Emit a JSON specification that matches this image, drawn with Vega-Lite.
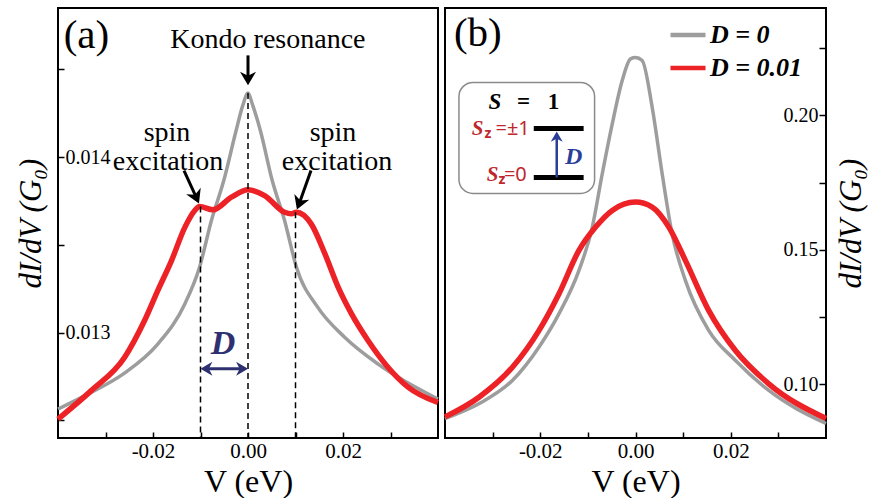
{
  "$schema": "https://vega.github.io/schema/vega-lite/v6.json",
  "padding": {"left": 14, "top": 7, "right": 0, "bottom": 0},
  "background": "white",
  "spacing": 7,
  "bounds": "flush",
  "datasets": {
    "a": [
      {"V": -0.04, "G": 0.012565, "s": "D = 0"},
      {"V": -0.033, "G": 0.01266, "s": "D = 0"},
      {"V": -0.026, "G": 0.01277, "s": "D = 0"},
      {"V": -0.019, "G": 0.012935, "s": "D = 0"},
      {"V": -0.0133, "G": 0.013164, "s": "D = 0"},
      {"V": -0.0102, "G": 0.013373, "s": "D = 0"},
      {"V": -0.0077, "G": 0.013639, "s": "D = 0"},
      {"V": -0.0051, "G": 0.013867, "s": "D = 0"},
      {"V": -0.0025, "G": 0.014152, "s": "D = 0"},
      {"V": -0.0011, "G": 0.014295, "s": "D = 0"},
      {"V": 0, "G": 0.014365, "s": "D = 0"},
      {"V": 0.001, "G": 0.014295, "s": "D = 0"},
      {"V": 0.0026, "G": 0.014152, "s": "D = 0"},
      {"V": 0.0051, "G": 0.013867, "s": "D = 0"},
      {"V": 0.0077, "G": 0.013639, "s": "D = 0"},
      {"V": 0.0102, "G": 0.013373, "s": "D = 0"},
      {"V": 0.0147, "G": 0.013144, "s": "D = 0"},
      {"V": 0.0204, "G": 0.012973, "s": "D = 0"},
      {"V": 0.0274, "G": 0.012821, "s": "D = 0"},
      {"V": 0.04, "G": 0.012622, "s": "D = 0"},
      {"V": -0.04, "G": 0.012508, "s": "D = 0.01"},
      {"V": -0.033, "G": 0.01267, "s": "D = 0.01"},
      {"V": -0.026, "G": 0.012859, "s": "D = 0.01"},
      {"V": -0.0218, "G": 0.013068, "s": "D = 0.01"},
      {"V": -0.019, "G": 0.01324, "s": "D = 0.01"},
      {"V": -0.0161, "G": 0.013411, "s": "D = 0.01"},
      {"V": -0.0133, "G": 0.0136, "s": "D = 0.01"},
      {"V": -0.0112, "G": 0.013696, "s": "D = 0.01"},
      {"V": -0.0102, "G": 0.013719, "s": "D = 0.01"},
      {"V": -0.0074, "G": 0.0137, "s": "D = 0.01"},
      {"V": -0.0035, "G": 0.013772, "s": "D = 0.01"},
      {"V": 0, "G": 0.013814, "s": "D = 0.01"},
      {"V": 0.0035, "G": 0.013781, "s": "D = 0.01"},
      {"V": 0.0077, "G": 0.013686, "s": "D = 0.01"},
      {"V": 0.0091, "G": 0.013677, "s": "D = 0.01"},
      {"V": 0.0102, "G": 0.013686, "s": "D = 0.01"},
      {"V": 0.0133, "G": 0.01362, "s": "D = 0.01"},
      {"V": 0.0162, "G": 0.013449, "s": "D = 0.01"},
      {"V": 0.019, "G": 0.013258, "s": "D = 0.01"},
      {"V": 0.0218, "G": 0.013107, "s": "D = 0.01"},
      {"V": 0.0253, "G": 0.012954, "s": "D = 0.01"},
      {"V": 0.0295, "G": 0.012802, "s": "D = 0.01"},
      {"V": 0.0337, "G": 0.01269, "s": "D = 0.01"},
      {"V": 0.04, "G": 0.012602, "s": "D = 0.01"}
    ],
    "b": [
      {"V": -0.04, "G": 0.08724, "s": "D = 0"},
      {"V": -0.0328, "G": 0.09282, "s": "D = 0"},
      {"V": -0.0258, "G": 0.10149, "s": "D = 0"},
      {"V": -0.02025, "G": 0.11387, "s": "D = 0"},
      {"V": -0.01606, "G": 0.12628, "s": "D = 0"},
      {"V": -0.01187, "G": 0.14238, "s": "D = 0"},
      {"V": -0.00907, "G": 0.15848, "s": "D = 0"},
      {"V": -0.00698, "G": 0.17831, "s": "D = 0"},
      {"V": -0.00488, "G": 0.1969, "s": "D = 0"},
      {"V": -0.00279, "G": 0.21301, "s": "D = 0"},
      {"V": -0.00105, "G": 0.22108, "s": "D = 0"},
      {"V": 0, "G": 0.22156, "s": "D = 0"},
      {"V": 0.0014, "G": 0.22045, "s": "D = 0"},
      {"V": 0.0035, "G": 0.20309, "s": "D = 0"},
      {"V": 0.0056, "G": 0.17831, "s": "D = 0"},
      {"V": 0.00768, "G": 0.15602, "s": "D = 0"},
      {"V": 0.01047, "G": 0.13866, "s": "D = 0"},
      {"V": 0.01536, "G": 0.12007, "s": "D = 0"},
      {"V": 0.02094, "G": 0.10892, "s": "D = 0"},
      {"V": 0.02792, "G": 0.09777, "s": "D = 0"},
      {"V": 0.04, "G": 0.08538, "s": "D = 0"},
      {"V": -0.04, "G": 0.08785, "s": "D = 0.01"},
      {"V": -0.0328, "G": 0.09528, "s": "D = 0.01"},
      {"V": -0.0258, "G": 0.10643, "s": "D = 0.01"},
      {"V": -0.02025, "G": 0.12007, "s": "D = 0.01"},
      {"V": -0.01606, "G": 0.13371, "s": "D = 0.01"},
      {"V": -0.01187, "G": 0.14981, "s": "D = 0.01"},
      {"V": -0.00838, "G": 0.15848, "s": "D = 0.01"},
      {"V": -0.00488, "G": 0.16468, "s": "D = 0.01"},
      {"V": 0, "G": 0.16777, "s": "D = 0.01"},
      {"V": 0.0035, "G": 0.16592, "s": "D = 0.01"},
      {"V": 0.007, "G": 0.15848, "s": "D = 0.01"},
      {"V": 0.01047, "G": 0.1461, "s": "D = 0.01"},
      {"V": 0.01536, "G": 0.12751, "s": "D = 0.01"},
      {"V": 0.02094, "G": 0.11264, "s": "D = 0.01"},
      {"V": 0.02792, "G": 0.10025, "s": "D = 0.01"},
      {"V": 0.04, "G": 0.08724, "s": "D = 0.01"}
    ],
    "dash": [
      {"V": -0.01, "T": 0.013719},
      {"V": 0, "T": 0.014365},
      {"V": 0.01, "T": 0.013686}
    ]
  },
  "config": {
    "view": {"stroke": "black", "strokeWidth": 2},
    "font": "Liberation Serif",
    "axis": {
      "domain": false, "grid": false,
      "labelFont": "Liberation Serif", "titleFont": "Liberation Serif",
      "titleFontWeight": "normal", "labelColor": "black", "titleColor": "black",
      "tickColor": "black", "tickWidth": 1.5,
      "labelOverlap": false, "labelFlush": false, "labelBound": false
    }
  },
  "resolve": {"scale": {"color": "independent"}},
  "hconcat": [
    {
      "width": 380, "height": 430,
      "data": {"values": [{}]},
      "layer": [
        {
          "data": {"name": "a"},
          "transform": [{"filter": "datum.s == 'D = 0'"}],
          "mark": {"type": "line", "interpolate": "monotone", "strokeWidth": 3.5},
          "encoding": {
            "x": {"field": "V", "type": "quantitative",
              "scale": {"domain": [-0.04, 0.04], "nice": false, "zero": false},
              "axis": {"title": "V (eV)", "values": [-0.03, -0.02, -0.01, 0, 0.01, 0.02, 0.03],
                "labelExpr": "abs(datum.value) < 1e-9 ? '0.00' : abs(datum.value + 0.02) < 1e-9 ? '-0.02' : abs(datum.value - 0.02) < 1e-9 ? '0.02' : ''",
                "tickSize": -6,
                "labelFontSize": 21, "labelPadding": 8, "titleFontSize": 32, "titlePadding": 5}},
            "y": {"field": "G", "type": "quantitative",
              "scale": {"domain": [0.0124, 0.01485], "nice": false, "zero": false},
              "axis": {"title": "dI/dV (G₀)", "titleFontStyle": "italic", "values": [0.0125, 0.013, 0.0135, 0.014, 0.0145],
                "labelExpr": "abs(datum.value*1000 - round(datum.value*1000)) < 1e-6 ? format(datum.value, '.3f') : ''",
                "tickSize": -6, "labelAlign": "left", "labelPadding": -1, "labelFontSize": 20,
                "titleFontSize": 31, "titlePadding": 10}},
            "color": {"field": "s", "type": "nominal",
              "scale": {"domain": ["D = 0", "D = 0.01"], "range": ["#9d9d9d", "#ec2227"]}, "legend": null}
          }
        },
        {
          "data": {"name": "a"},
          "transform": [{"filter": "datum.s == 'D = 0.01'"}],
          "mark": {"type": "line", "interpolate": "monotone", "strokeWidth": 5.5},
          "encoding": {
            "x": {"field": "V", "type": "quantitative"},
            "y": {"field": "G", "type": "quantitative"},
            "color": {"field": "s", "type": "nominal", "legend": null}
          }
        },
        {
          "data": {"name": "dash"},
          "mark": {"type": "rule", "strokeDash": [6, 4], "color": "black", "strokeWidth": 1.5},
          "encoding": {
            "x": {"field": "V", "type": "quantitative"},
            "y": {"field": "T", "type": "quantitative"},
            "y2": {"datum": 0.0124}
          }
        },
        {"mark": {"type": "text", "text": "(a)", "fontSize": 41, "align": "left", "baseline": "middle"},
         "encoding": {"x": {"datum": -0.0388, "type": "quantitative"}, "y": {"datum": 0.014689, "type": "quantitative"}}},
        {"mark": {"type": "text", "text": "Kondo resonance", "fontSize": 28, "align": "center", "baseline": "middle"},
         "encoding": {"x": {"datum": 0.0042, "type": "quantitative"}, "y": {"datum": 0.014666, "type": "quantitative"}}},
        {"mark": {"type": "text", "text": "spin", "fontSize": 28, "align": "center", "baseline": "middle"},
         "encoding": {"x": {"datum": -0.01705, "type": "quantitative"}, "y": {"datum": 0.014138, "type": "quantitative"}}},
        {"mark": {"type": "text", "text": "excitation", "fontSize": 28, "align": "center", "baseline": "middle"},
         "encoding": {"x": {"datum": -0.01684, "type": "quantitative"}, "y": {"datum": 0.013975, "type": "quantitative"}}},
        {"mark": {"type": "text", "text": "spin", "fontSize": 28, "align": "center", "baseline": "middle"},
         "encoding": {"x": {"datum": 0.0179, "type": "quantitative"}, "y": {"datum": 0.014138, "type": "quantitative"}}},
        {"mark": {"type": "text", "text": "excitation", "fontSize": 28, "align": "center", "baseline": "middle"},
         "encoding": {"x": {"datum": 0.01874, "type": "quantitative"}, "y": {"datum": 0.013975, "type": "quantitative"}}},
        {"mark": {"type": "rule", "color": "black", "strokeWidth": 3},
         "encoding": {"x": {"datum": 0, "type": "quantitative"}, "y": {"datum": 0.01458, "type": "quantitative"}, "y2": {"datum": 0.014455}}},
        {"mark": {"type": "point", "shape": "M0,1L-1,-0.7L0,-0.2L1,-0.7Z", "filled": true, "color": "black", "opacity": 1, "size": 256, "angle": 0},
         "encoding": {"x": {"datum": 0, "type": "quantitative"}, "y": {"datum": 0.014455, "type": "quantitative"}}},
        {"mark": {"type": "rule", "color": "black", "strokeWidth": 3},
         "encoding": {"x": {"datum": -0.01347, "type": "quantitative"}, "y": {"datum": 0.013924, "type": "quantitative"}, "x2": {"datum": -0.01101}, "y2": {"datum": 0.013778}}},
        {"mark": {"type": "point", "shape": "M0,1L-1,-0.7L0,-0.2L1,-0.7Z", "filled": true, "color": "black", "opacity": 1, "size": 256, "angle": -24},
         "encoding": {"x": {"datum": -0.01101, "type": "quantitative"}, "y": {"datum": 0.013778, "type": "quantitative"}}},
        {"mark": {"type": "rule", "color": "black", "strokeWidth": 3},
         "encoding": {"x": {"datum": 0.01326, "type": "quantitative"}, "y": {"datum": 0.013924, "type": "quantitative"}, "x2": {"datum": 0.0109}, "y2": {"datum": 0.013744}}},
        {"mark": {"type": "point", "shape": "M0,1L-1,-0.7L0,-0.2L1,-0.7Z", "filled": true, "color": "black", "opacity": 1, "size": 256, "angle": 21},
         "encoding": {"x": {"datum": 0.0109, "type": "quantitative"}, "y": {"datum": 0.013744, "type": "quantitative"}}},
        {"mark": {"type": "rule", "color": "#2e3070", "strokeWidth": 3},
         "encoding": {"x": {"datum": -0.0092, "type": "quantitative"}, "x2": {"datum": -0.0008}, "y": {"datum": 0.012795, "type": "quantitative"}}},
        {"mark": {"type": "point", "shape": "M0,1L-1,-0.7L0,-0.2L1,-0.7Z", "filled": true, "color": "#2e3070", "opacity": 1, "size": 196, "angle": 90},
         "encoding": {"x": {"datum": -0.00853, "type": "quantitative"}, "y": {"datum": 0.012795, "type": "quantitative"}}},
        {"mark": {"type": "point", "shape": "M0,1L-1,-0.7L0,-0.2L1,-0.7Z", "filled": true, "color": "#2e3070", "opacity": 1, "size": 196, "angle": -90},
         "encoding": {"x": {"datum": -0.00147, "type": "quantitative"}, "y": {"datum": 0.012795, "type": "quantitative"}}},
        {"mark": {"type": "text", "text": "D", "fontSize": 34, "fontWeight": "bold", "fontStyle": "italic", "color": "#2e3070", "align": "center", "baseline": "middle"},
         "encoding": {"x": {"datum": -0.00526, "type": "quantitative"}, "y": {"datum": 0.012937, "type": "quantitative"}}}
      ]
    },
    {
      "width": 381, "height": 430,
      "data": {"values": [{}]},
      "layer": [
        {
          "data": {"name": "b"},
          "transform": [{"filter": "datum.s == 'D = 0'"}],
          "mark": {"type": "line", "interpolate": "monotone", "strokeWidth": 3.5},
          "encoding": {
            "x": {"field": "V", "type": "quantitative",
              "scale": {"domain": [-0.04, 0.04], "nice": false, "zero": false},
              "axis": {"title": "V (eV)", "values": [-0.03, -0.02, -0.01, 0, 0.01, 0.02, 0.03],
                "labelExpr": "abs(datum.value) < 1e-9 ? '0.00' : abs(datum.value + 0.02) < 1e-9 ? '-0.02' : abs(datum.value - 0.02) < 1e-9 ? '0.02' : ''",
                "tickSize": -6,
                "labelFontSize": 21, "labelPadding": 8, "titleFontSize": 32, "titlePadding": 5}},
            "y": {"field": "G", "type": "quantitative",
              "scale": {"domain": [0.08, 0.24], "nice": false, "zero": false},
              "axis": {"orient": "right", "title": "dI/dV (G₀)", "titleFontStyle": "italic", "titleAngle": -90, "titleBaseline": "top",
                "values": [0.1, 0.125, 0.15, 0.175, 0.2, 0.225],
                "labelExpr": "abs(datum.value*20 - round(datum.value*20)) < 1e-6 ? format(datum.value, '.2f') : ''",
                "tickSize": -7, "labelAlign": "right", "labelPadding": -1, "labelFontSize": 20,
                "titleFontSize": 31, "titlePadding": 10}},
            "color": {"field": "s", "type": "nominal",
              "scale": {"domain": ["D = 0", "D = 0.01"], "range": ["#9d9d9d", "#ec2227"]},
              "legend": {"orient": "none", "legendX": 223, "legendY": 7, "title": null,
                "symbolType": "stroke", "symbolSize": 1225, "symbolStrokeWidth": 4.5,
                "labelFont": "Liberation Serif", "labelFontSize": 26, "labelFontWeight": "bold", "labelFontStyle": "italic", "labelColor": "black",
                "rowPadding": 0, "labelOffset": 2, "padding": 0, "labelLimit": 300}}
          }
        },
        {
          "data": {"name": "b"},
          "transform": [{"filter": "datum.s == 'D = 0.01'"}],
          "mark": {"type": "line", "interpolate": "monotone", "strokeWidth": 5.5},
          "encoding": {
            "x": {"field": "V", "type": "quantitative"},
            "y": {"field": "G", "type": "quantitative"},
            "color": {"field": "s", "type": "nominal"}
          }
        },
        {"mark": {"type": "rect", "fill": "white", "stroke": "#8a8a8a", "strokeWidth": 1.5, "cornerRadius": 14},
         "encoding": {"x": {"datum": -0.03707, "type": "quantitative"}, "x2": {"datum": -0.00859}, "y": {"datum": 0.171, "type": "quantitative"}, "y2": {"datum": 0.21227}}},
        {"mark": {"type": "text", "text": "(b)", "fontSize": 41, "align": "left", "baseline": "middle"},
         "encoding": {"x": {"datum": -0.03812, "type": "quantitative"}, "y": {"datum": 0.23048, "type": "quantitative"}}},
        {"mark": {"type": "text", "text": "S", "fontSize": 23, "fontWeight": "bold", "fontStyle": "italic", "align": "left", "baseline": "middle"},
         "encoding": {"x": {"datum": -0.03087, "type": "quantitative"}, "y": {"datum": 0.2049, "type": "quantitative"}}},
        {"mark": {"type": "text", "text": "=", "fontSize": 23, "fontWeight": "bold", "align": "center", "baseline": "middle"},
         "encoding": {"x": {"datum": -0.02352, "type": "quantitative"}, "y": {"datum": 0.2049, "type": "quantitative"}}},
        {"mark": {"type": "text", "text": "1", "fontSize": 23, "fontWeight": "bold", "align": "center", "baseline": "middle"},
         "encoding": {"x": {"datum": -0.01722, "type": "quantitative"}, "y": {"datum": 0.2049, "type": "quantitative"}}},
        {"mark": {"type": "rule", "color": "black", "strokeWidth": 5},
         "encoding": {"x": {"datum": -0.02136, "type": "quantitative"}, "x2": {"datum": -0.01089}, "y": {"datum": 0.19517, "type": "quantitative"}}},
        {"mark": {"type": "rule", "color": "black", "strokeWidth": 5},
         "encoding": {"x": {"datum": -0.02136, "type": "quantitative"}, "x2": {"datum": -0.01089}, "y": {"datum": 0.17695, "type": "quantitative"}}},
        {"mark": {"type": "text", "text": "S", "fontSize": 21, "fontWeight": "bold", "fontStyle": "italic", "color": "#c0272d", "align": "right", "baseline": "middle"},
         "encoding": {"x": {"datum": -0.03192, "type": "quantitative"}, "y": {"datum": 0.19481, "type": "quantitative"}}},
        {"mark": {"type": "text", "text": "z", "fontSize": 14, "fontWeight": "bold", "color": "#c0272d", "align": "right", "baseline": "middle", "font": "Noto Sans"},
         "encoding": {"x": {"datum": -0.03024, "type": "quantitative"}, "y": {"datum": 0.19295, "type": "quantitative"}}},
        {"mark": {"type": "text", "text": "=±1", "fontSize": 20, "color": "#c0272d", "align": "right", "baseline": "middle", "font": "Noto Sans"},
         "encoding": {"x": {"datum": -0.0222, "type": "quantitative"}, "y": {"datum": 0.19481, "type": "quantitative"}}},
        {"mark": {"type": "text", "text": "S", "fontSize": 21, "fontWeight": "bold", "fontStyle": "italic", "color": "#c0272d", "align": "right", "baseline": "middle"},
         "encoding": {"x": {"datum": -0.02877, "type": "quantitative"}, "y": {"datum": 0.1777, "type": "quantitative"}}},
        {"mark": {"type": "text", "text": "z", "fontSize": 14, "fontWeight": "bold", "color": "#c0272d", "align": "right", "baseline": "middle", "font": "Noto Sans"},
         "encoding": {"x": {"datum": -0.0273, "type": "quantitative"}, "y": {"datum": 0.17584, "type": "quantitative"}}},
        {"mark": {"type": "text", "text": "=0", "fontSize": 20, "color": "#c0272d", "align": "right", "baseline": "middle", "font": "Noto Sans"},
         "encoding": {"x": {"datum": -0.02283, "type": "quantitative"}, "y": {"datum": 0.1777, "type": "quantitative"}}},
        {"mark": {"type": "rule", "color": "#2b3f99", "strokeWidth": 2.5},
         "encoding": {"x": {"datum": -0.01654, "type": "quantitative"}, "y": {"datum": 0.17695, "type": "quantitative"}, "y2": {"datum": 0.19182}}},
        {"mark": {"type": "point", "shape": "M0,1L-1,-0.7L0,-0.2L1,-0.7Z", "filled": true, "color": "#2b3f99", "opacity": 1, "size": 144, "angle": 180},
         "encoding": {"x": {"datum": -0.01654, "type": "quantitative"}, "y": {"datum": 0.19182, "type": "quantitative"}}},
        {"mark": {"type": "text", "text": "D", "fontSize": 24, "fontWeight": "bold", "fontStyle": "italic", "color": "#2b3f99", "align": "center", "baseline": "middle"},
         "encoding": {"x": {"datum": -0.01298, "type": "quantitative"}, "y": {"datum": 0.18439, "type": "quantitative"}}}
      ]
    }
  ]
}
